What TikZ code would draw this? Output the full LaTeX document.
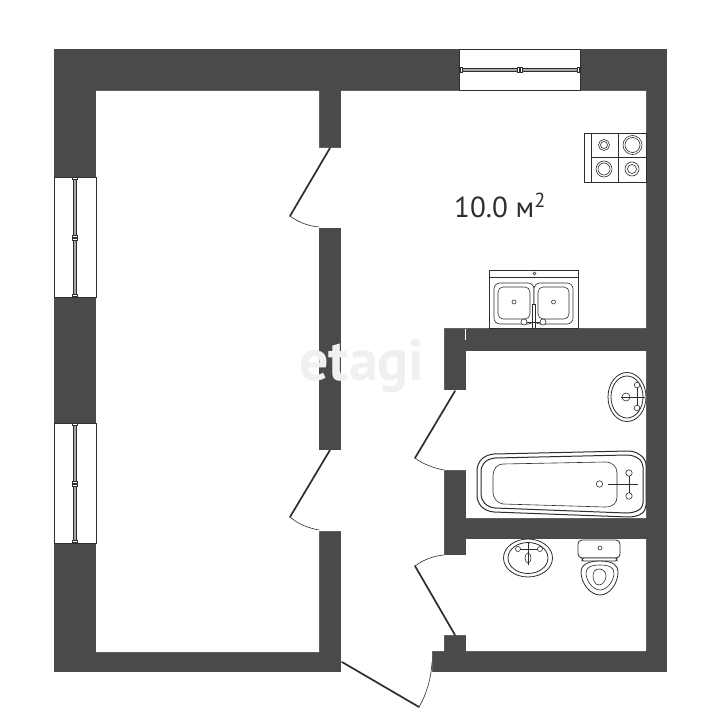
\documentclass[tikz,border=0pt]{standalone}
\usepackage{fontspec}
\setmainfont{PT Sans}
\definecolor{wall}{HTML}{4A4A4A}
\definecolor{ink}{HTML}{2E2E2E}
\definecolor{mark}{HTML}{F0F0F1}
\tikzset{
  x=1pt,y=-1pt,
  wallfill/.style={fill=wall,draw=none},
  room/.style={fill=white,draw=none},
  leaf/.style={draw=ink,line width=1.7pt,line cap=round},
  swing/.style={draw=ink,line width=0.6pt},
  fixture/.style={draw=ink,line width=0.8pt,fill=white},
  thin fixture/.style={draw=ink,line width=0.6pt,fill=white},
  frame/.style={draw=ink,line width=0.9pt,fill=white},
  bar/.style={draw=ink,line width=0.6pt,fill=gray!70},
}
\begin{document}
\begin{tikzpicture}
\useasboundingbox (0,0) rectangle (722,722);
\fill[white] (0,0) rectangle (722,722);
% walls
\fill[wallfill] (54,49) rectangle (667,672);
\fill[room] (96,91) -- (319,91) -- (319,148) -- (341,148) -- (341,91) -- (646,91)
  -- (646,328) -- (444,328) -- (444,390) -- (466,390) -- (466,351) -- (646,351)
  -- (646,518) -- (466,518) -- (466,470) -- (444,470) -- (444,555) -- (466,555)
  -- (466,539) -- (646,539) -- (646,651) -- (466,651) -- (466,635) -- (444,635)
  -- (444,651) -- (432,651) -- (432,673) -- (341,673) -- (341,531) -- (319,531)
  -- (319,652) -- (96,652) -- cycle;
\fill[wallfill] (319,228) rectangle (341,450);
\draw[white,line width=0.8pt] (465,329) -- (465,340);
% watermark
\node[text=mark,font=\bfseries\fontsize{58}{58}\selectfont,anchor=base] (wm) at (362,380) {etagi};
% windows
\draw[frame] (459.5,49.5) rectangle (580,90);
\draw[bar] (461,68) rectangle (579,71);
\foreach \p in {461,518,521,578} \draw[ink,line width=0.6pt,fill=white] (\p-1,67) rectangle (\p+1,72);
\draw[frame] (54.5,177) rectangle (96,297);
\draw[bar] (73.5,178) rectangle (76.5,296);
\foreach \p in {178,236,239,295} \draw[ink,line width=0.6pt,fill=white] (72.5,\p-1) rectangle (77.5,\p+1);
\draw[frame] (54.5,423) rectangle (96,543);
\draw[bar] (73.5,424) rectangle (76.5,542);
\foreach \p in {424,482,485,541} \draw[ink,line width=0.6pt,fill=white] (72.5,\p-1) rectangle (77.5,\p+1);
% doors
\draw[leaf] (330,148) -- (290,216);
\draw[swing] (290,216) .. controls (298,222) and (308,226) .. (319,227);
\draw[leaf] (330,450) -- (290,517);
\draw[swing] (290,517) .. controls (298,524) and (308,528) .. (319,530);
\draw[leaf] (455,391) -- (415,458);
\draw[swing] (415,458) .. controls (423,464) and (433,468) .. (444,470);
\draw[leaf] (455,635) -- (415,566);
\draw[swing] (415,566) .. controls (423,560) and (433,556) .. (444,555);
\draw[leaf] (342,662) -- (419,707);
\draw[swing] (419,707) .. controls (426,695) and (431,680) .. (432,662);
% label
\node[text=ink,font=\fontsize{29}{29}\selectfont,anchor=base west,inner sep=0pt] (area) at (454,217) {10.0 м\textsuperscript{2}};
% stove
\draw[fixture] (584,133) rectangle (646,182);
\draw[fixture] (591,133) -- (591,182) (618,133) -- (618,182) (591,157) -- (646,157);
\foreach \cx/\cy/\ra/\rb in {604/145/5.5/3.5,632.5/145/9.5/7.5,604/169/8/6,632/169/7/4.5}{
  \draw[thin fixture] (\cx,\cy) circle[radius=\ra];
  \draw[thin fixture] (\cx,\cy) circle[radius=\rb];
}
% sink
\draw[fixture] (489,270) rectangle (578,328);
\draw[fixture] (489,277) -- (578,277);
\draw[thin fixture] (534.5,273.5) circle[radius=1.5];
\draw[thin fixture,rounded corners=6pt] (494,283) rectangle (534,324);
\draw[thin fixture,rounded corners=6pt] (534,283) rectangle (573,324);
\draw[thin fixture,rounded corners=5pt] (498,287) rectangle (530,319);
\draw[thin fixture,rounded corners=5pt] (538,287) rectangle (569,319);
\draw[thin fixture] (514,302) circle[radius=2];
\draw[thin fixture] (553.5,302) circle[radius=2];
\draw[thin fixture] (532.5,304) rectangle (535.5,328);
\draw[thin fixture] (524,322) -- (543,322);
\draw[thin fixture] (524,322) circle[radius=3];
\draw[thin fixture] (543,322) circle[radius=3];
% bathroom basin
\begin{scope}
\clip (600,370) rectangle (646,425);
\draw[fixture] (627,397) ellipse[x radius=19,y radius=24.5];
\draw[fixture] (627,397) ellipse[x radius=16,y radius=21];
\end{scope}
\draw[thin fixture] (621,397) -- (645,397);
\draw[thin fixture] (637,385) -- (637,408);
\draw[thin fixture] (626,397) circle[radius=4];
\draw[thin fixture] (637,385) circle[radius=2.8];
\draw[thin fixture] (637,408) circle[radius=2.8];
\draw[thin fixture] (621,397) -- (645,397);
% bath
\draw[fixture,line width=1pt] (494,454) -- (628,451) .. controls (638,451) and (646,458) .. (646,465)
  -- (646,505) .. controls (646,512) and (640,517) .. (628,517) -- (494,512)
  .. controls (483,511) and (477,504) .. (477,495) -- (477,471) .. controls (477,462) and (483,455) .. (494,454) -- cycle;
\draw[fixture,line width=1pt] (495,458) -- (626,455) .. controls (636,455) and (643,460) .. (643,467)
  -- (643,503) .. controls (643,509) and (636,513) .. (626,513) -- (495,508)
  .. controls (486,507) and (481,501) .. (481,494) -- (481,472) .. controls (481,464) and (486,459) .. (495,458) -- cycle;
\draw[thin fixture] (503,464) -- (605,462) .. controls (613,462) and (617,467) .. (617,473)
  -- (617,497) .. controls (617,503) and (613,507) .. (605,507) -- (503,504)
  .. controls (497,503) and (493,498) .. (493,492) -- (493,476) .. controls (493,469) and (497,464) .. (503,464) -- cycle;
\draw[thin fixture] (599.5,484) circle[radius=3.2];
\draw[fixture] (608,484) -- (638,484);
\draw[fixture] (629,473) -- (629,496);
\draw[thin fixture] (629,473) circle[radius=3.2];
\draw[thin fixture] (629,496) circle[radius=3.2];
% WC basin
\draw[fixture] (528,558) ellipse[x radius=24.5,y radius=19];
\draw[fixture] (528,558) ellipse[x radius=20,y radius=15.5];
\draw[thin fixture] (528,558) ellipse[x radius=3,y radius=5];
\draw[fixture] (528,543) -- (528,565);
\draw[fixture] (518,549) -- (540,549);
\draw[thin fixture] (518,549) circle[radius=2.5];
\draw[thin fixture] (540,549) circle[radius=2.5];
% toilet
\draw[fixture,rounded corners=4pt] (578,540) rectangle (620,558);
\draw[thin fixture] (600,548) circle[radius=2];
\draw[fixture,rounded corners=2pt] (582,558) rectangle (617,561);
\draw[fixture] (600,595) .. controls (590,595) and (581,583) .. (581,572) .. controls (581,566) and (586,561) .. (600,561)
  .. controls (614,561) and (618,566) .. (618,572) .. controls (618,583) and (610,595) .. (600,595) -- cycle;
\draw[thin fixture] (600,590) .. controls (593,590) and (586,581) .. (586,573) .. controls (586,568) and (590,565) .. (600,565)
  .. controls (610,565) and (614,568) .. (614,573) .. controls (614,581) and (607,590) .. (600,590) -- cycle;
\draw[thin fixture] (599,585) .. controls (595,585) and (593,580) .. (593,576) .. controls (593,572) and (595,569) .. (599,569)
  .. controls (603,569) and (606,572) .. (606,576) .. controls (606,580) and (603,585) .. (599,585) -- cycle;
\end{tikzpicture}
\end{document}
